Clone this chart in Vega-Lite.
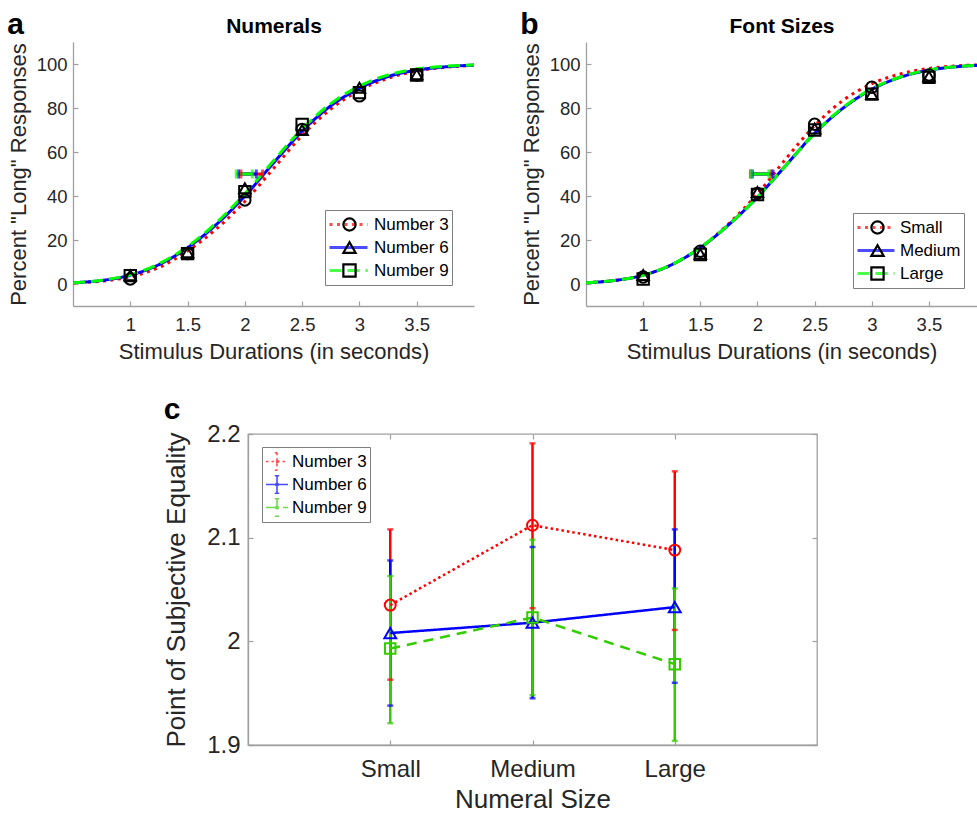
{
  "$schema": "https://vega.github.io/schema/vega-lite/v6.json",
  "padding": {"left": 7, "top": 10, "right": 0, "bottom": 0},
  "background": "white",
  "config": {
    "font": "Liberation Sans",
    "view": {"stroke": null},
    "axis": {"grid": false, "domainColor": "#a0a0a0", "domainWidth": 1.3, "tickColor": "#a0a0a0", "tickWidth": 1.2, "tickSize": -5, "labelColor": "#262626", "titleColor": "#262626", "labelFont": "Liberation Sans", "titleFont": "Liberation Sans", "titleFontWeight": "normal", "labelOverlap": false, "labelFlush": false},
    "legend": {"labelFont": "Liberation Sans", "labelColor": "black", "labelFontSize": 17},
    "title": {"font": "Liberation Sans", "color": "black"}
  },
  "datasets": {
    "curvesA": [
      {"series":"Number 3","duration":0.5,"pct":0.5},{"series":"Number 3","duration":0.75,"pct":1.3},{"series":"Number 3","duration":1,"pct":3.3},{"series":"Number 3","duration":1.25,"pct":7.5},{"series":"Number 3","duration":1.5,"pct":15},{"series":"Number 3","duration":1.75,"pct":25},{"series":"Number 3","duration":2,"pct":37.5},{"series":"Number 3","duration":2.25,"pct":52.5},{"series":"Number 3","duration":2.5,"pct":67.5},{"series":"Number 3","duration":2.75,"pct":79.5},{"series":"Number 3","duration":3,"pct":88},{"series":"Number 3","duration":3.25,"pct":93.5},{"series":"Number 3","duration":3.5,"pct":96.8},{"series":"Number 3","duration":3.75,"pct":98.5},{"series":"Number 3","duration":4,"pct":99.4},
      {"series":"Number 6","duration":0.5,"pct":0.6},{"series":"Number 6","duration":0.75,"pct":1.6},{"series":"Number 6","duration":1,"pct":4},{"series":"Number 6","duration":1.25,"pct":8.8},{"series":"Number 6","duration":1.5,"pct":16.5},{"series":"Number 6","duration":1.75,"pct":27},{"series":"Number 6","duration":2,"pct":40},{"series":"Number 6","duration":2.25,"pct":55},{"series":"Number 6","duration":2.5,"pct":69.5},{"series":"Number 6","duration":2.75,"pct":81},{"series":"Number 6","duration":3,"pct":89},{"series":"Number 6","duration":3.25,"pct":94.3},{"series":"Number 6","duration":3.5,"pct":97.2},{"series":"Number 6","duration":3.75,"pct":98.7},{"series":"Number 6","duration":4,"pct":99.5},
      {"series":"Number 9","duration":0.5,"pct":0.6},{"series":"Number 9","duration":0.75,"pct":1.7},{"series":"Number 9","duration":1,"pct":4.2},{"series":"Number 9","duration":1.25,"pct":9.2},{"series":"Number 9","duration":1.5,"pct":17},{"series":"Number 9","duration":1.75,"pct":27.8},{"series":"Number 9","duration":2,"pct":41},{"series":"Number 9","duration":2.25,"pct":56},{"series":"Number 9","duration":2.5,"pct":70.5},{"series":"Number 9","duration":2.75,"pct":82},{"series":"Number 9","duration":3,"pct":90},{"series":"Number 9","duration":3.25,"pct":95},{"series":"Number 9","duration":3.5,"pct":97.7},{"series":"Number 9","duration":3.75,"pct":99},{"series":"Number 9","duration":4,"pct":99.6}
    ],
    "pointsA": [
      {"series":"Number 3","duration":1,"pct":2.3},{"series":"Number 3","duration":1.5,"pct":13.8},{"series":"Number 3","duration":2,"pct":38.2},{"series":"Number 3","duration":2.5,"pct":70.3},{"series":"Number 3","duration":3,"pct":85.5},{"series":"Number 3","duration":3.5,"pct":95},
      {"series":"Number 6","duration":1,"pct":4},{"series":"Number 6","duration":1.5,"pct":14.4},{"series":"Number 6","duration":2,"pct":43.5},{"series":"Number 6","duration":2.5,"pct":70},{"series":"Number 6","duration":3,"pct":89.2},{"series":"Number 6","duration":3.5,"pct":95.3},
      {"series":"Number 9","duration":1,"pct":3.8},{"series":"Number 9","duration":1.5,"pct":13.8},{"series":"Number 9","duration":2,"pct":42},{"series":"Number 9","duration":2.5,"pct":72.5},{"series":"Number 9","duration":3,"pct":87},{"series":"Number 9","duration":3.5,"pct":95}
    ],
    "pseA": [
      {"series":"Number 3","lo":1.965,"hi":2.155},
      {"series":"Number 6","lo":1.945,"hi":2.1},
      {"series":"Number 9","lo":1.925,"hi":2.065}
    ],
    "curvesB": [
      {"series":"Small","duration":0.5,"pct":0.6},{"series":"Small","duration":0.75,"pct":1.6},{"series":"Small","duration":1,"pct":4},{"series":"Small","duration":1.25,"pct":8.8},{"series":"Small","duration":1.5,"pct":16.5},{"series":"Small","duration":1.75,"pct":27.5},{"series":"Small","duration":2,"pct":41},{"series":"Small","duration":2.25,"pct":57},{"series":"Small","duration":2.5,"pct":72},{"series":"Small","duration":2.75,"pct":83.5},{"series":"Small","duration":3,"pct":91},{"series":"Small","duration":3.25,"pct":95.5},{"series":"Small","duration":3.5,"pct":98},{"series":"Small","duration":3.75,"pct":99.2},{"series":"Small","duration":4,"pct":99.7},
      {"series":"Medium","duration":0.5,"pct":0.6},{"series":"Medium","duration":0.75,"pct":1.6},{"series":"Medium","duration":1,"pct":4},{"series":"Medium","duration":1.25,"pct":8.8},{"series":"Medium","duration":1.5,"pct":16.5},{"series":"Medium","duration":1.75,"pct":27},{"series":"Medium","duration":2,"pct":39.5},{"series":"Medium","duration":2.25,"pct":54},{"series":"Medium","duration":2.5,"pct":68.5},{"series":"Medium","duration":2.75,"pct":80},{"series":"Medium","duration":3,"pct":88.5},{"series":"Medium","duration":3.25,"pct":94},{"series":"Medium","duration":3.5,"pct":97.2},{"series":"Medium","duration":3.75,"pct":98.8},{"series":"Medium","duration":4,"pct":99.5},
      {"series":"Large","duration":0.5,"pct":0.6},{"series":"Large","duration":0.75,"pct":1.6},{"series":"Large","duration":1,"pct":4},{"series":"Large","duration":1.25,"pct":8.8},{"series":"Large","duration":1.5,"pct":16.6},{"series":"Large","duration":1.75,"pct":27},{"series":"Large","duration":2,"pct":39.5},{"series":"Large","duration":2.25,"pct":54},{"series":"Large","duration":2.5,"pct":68.5},{"series":"Large","duration":2.75,"pct":80.3},{"series":"Large","duration":3,"pct":88.7},{"series":"Large","duration":3.25,"pct":94.1},{"series":"Large","duration":3.5,"pct":97.3},{"series":"Large","duration":3.75,"pct":98.8},{"series":"Large","duration":4,"pct":99.5}
    ],
    "pointsB": [
      {"series":"Small","duration":1,"pct":3.2},{"series":"Small","duration":1.5,"pct":14.9},{"series":"Small","duration":2,"pct":41.2},{"series":"Small","duration":2.5,"pct":72.6},{"series":"Small","duration":3,"pct":89.4},{"series":"Small","duration":3.5,"pct":95},
      {"series":"Medium","duration":1,"pct":4.1},{"series":"Medium","duration":1.5,"pct":13.7},{"series":"Medium","duration":2,"pct":41.8},{"series":"Medium","duration":2.5,"pct":70.7},{"series":"Medium","duration":3,"pct":86.3},{"series":"Medium","duration":3.5,"pct":94.4},
      {"series":"Large","duration":1,"pct":2.3},{"series":"Large","duration":1.5,"pct":13.4},{"series":"Large","duration":2,"pct":40.7},{"series":"Large","duration":2.5,"pct":70},{"series":"Large","duration":3,"pct":86.3},{"series":"Large","duration":3.5,"pct":93.9}
    ],
    "pseB": [
      {"series":"Small","lo":1.938,"hi":2.12},
      {"series":"Medium","lo":1.955,"hi":2.135},
      {"series":"Large","lo":1.945,"hi":2.1}
    ],
    "pseC": [
      {"size":"Small","series":"Number 3","pse":2.035,"lo":1.963,"hi":2.108},
      {"size":"Medium","series":"Number 3","pse":2.112,"lo":2.032,"hi":2.191},
      {"size":"Large","series":"Number 3","pse":2.088,"lo":2.011,"hi":2.164},
      {"size":"Small","series":"Number 6","pse":2.008,"lo":1.938,"hi":2.078},
      {"size":"Medium","series":"Number 6","pse":2.018,"lo":1.945,"hi":2.091},
      {"size":"Large","series":"Number 6","pse":2.033,"lo":1.96,"hi":2.108},
      {"size":"Small","series":"Number 9","pse":1.993,"lo":1.921,"hi":2.063},
      {"size":"Medium","series":"Number 9","pse":2.023,"lo":1.948,"hi":2.098},
      {"size":"Large","series":"Number 9","pse":1.978,"lo":1.904,"hi":2.051}
    ]
  },
  "vconcat": [
    {
      "hconcat": [
        {
          "width": 401, "height": 264,
          "title": {"text": "a", "anchor": "start", "frame": "bounds", "fontSize": 30, "fontWeight": "bold", "offset": 0, "dy": 25},
          "layer": [
            {
              "data": {"name": "curvesA"},
              "mark": {"type": "line", "strokeWidth": 3, "clip": true, "interpolate": "monotone", "strokeCap": "butt"},
              "encoding": {
                "x": {"field": "duration", "type": "quantitative", "scale": {"domain": [0.5, 4], "nice": false, "zero": false}, "axis": {"values": [1, 1.5, 2, 2.5, 3, 3.5], "format": "~g", "title": "Stimulus Durations (in seconds)", "labelFontSize": 18.5, "titleFontSize": 22, "labelPadding": 14, "titlePadding": 8}},
                "y": {"field": "pct", "type": "quantitative", "scale": {"domain": [-10, 110], "nice": false, "zero": false}, "axis": {"values": [0, 20, 40, 60, 80, 100], "title": "Percent \"Long\" Responses", "labelFontSize": 18.5, "titleFontSize": 22, "labelPadding": 11, "titlePadding": 6}},
                "color": {"field": "series", "type": "nominal", "scale": {"domain": ["Number 3", "Number 6", "Number 9"], "range": ["#ff0000", "#0000ff", "#00ff00"]}, "legend": {"title": null, "orient": "none", "legendX": 252, "legendY": 168, "symbolType": "stroke", "symbolSize": 1444, "symbolStrokeWidth": 3, "clipHeight": 23, "rowPadding": 0, "padding": 3, "labelOffset": 5, "strokeColor": "#7f7f7f", "fillColor": "white", "zindex": 0}},
                "strokeDash": {"field": "series", "type": "nominal", "scale": {"domain": ["Number 3", "Number 6", "Number 9"], "range": [[3, 4.5], [1, 0], [12, 6]]}, "legend": {"title": null, "orient": "none", "legendX": 252, "legendY": 168, "symbolType": "stroke", "symbolSize": 1444, "symbolStrokeWidth": 3, "clipHeight": 23, "rowPadding": 0, "padding": 3, "labelOffset": 5, "strokeColor": "#7f7f7f", "fillColor": "white", "zindex": 0}}
              }
            },
            {
              "data": {"name": "pseA"},
              "mark": {"type": "rule", "strokeWidth": 3},
              "encoding": {
                "x": {"field": "lo", "type": "quantitative", "axis": null},
                "x2": {"field": "hi"},
                "y": {"datum": 50},
                "color": {"field": "series", "type": "nominal"}
              }
            },
            {
              "data": {"name": "pseA"},
              "transform": [{"fold": ["lo", "hi"], "as": ["end", "xv"]}],
              "mark": {"type": "tick", "orient": "vertical", "size": 9, "thickness": 3},
              "encoding": {
                "x": {"field": "xv", "type": "quantitative", "axis": null},
                "y": {"datum": 50},
                "color": {"field": "series", "type": "nominal"}
              }
            },
            {
              "data": {"name": "pointsA"},
              "mark": {"type": "point", "filled": false, "color": "black", "strokeWidth": 2, "size": 130, "opacity": 1},
              "encoding": {
                "x": {"field": "duration", "type": "quantitative", "axis": {"orient": "top", "title": "Numerals", "labels": false, "ticks": false, "domain": false, "titleFontWeight": "bold", "titleFontSize": 21, "titleColor": "black", "titleY": -10, "titleBaseline": "alphabetic"}},
                "y": {"field": "pct", "type": "quantitative"},
                "shape": {"field": "series", "type": "nominal", "scale": {"range": ["circle", "triangle-up", "square"]}, "legend": {"title": null, "orient": "none", "legendX": 265, "legendY": 168, "symbolSize": 150, "symbolStrokeWidth": 2.2, "symbolStrokeColor": "black", "symbolFillColor": "transparent", "clipHeight": 23, "rowPadding": 0, "padding": 3, "labelExpr": "''", "zindex": 1}}
              }
            }
          ],
          "resolve": {"axis": {"x": "independent"}}
        },
        {
          "width": 391, "height": 264,
          "title": {"text": "b", "anchor": "start", "frame": "bounds", "fontSize": 30, "fontWeight": "bold", "offset": 0, "dy": 25},
          "layer": [
            {
              "data": {"name": "curvesB"},
              "mark": {"type": "line", "strokeWidth": 3, "clip": true, "interpolate": "monotone", "strokeCap": "butt"},
              "encoding": {
                "x": {"field": "duration", "type": "quantitative", "scale": {"domain": [0.5, 3.92], "nice": false, "zero": false}, "axis": {"values": [1, 1.5, 2, 2.5, 3, 3.5], "format": "~g", "title": "Stimulus Durations (in seconds)", "labelFontSize": 18.5, "titleFontSize": 22, "labelPadding": 14, "titlePadding": 8}},
                "y": {"field": "pct", "type": "quantitative", "scale": {"domain": [-10, 110], "nice": false, "zero": false}, "axis": {"values": [0, 20, 40, 60, 80, 100], "title": "Percent \"Long\" Responses", "labelFontSize": 18.5, "titleFontSize": 22, "labelPadding": 11, "titlePadding": 6}},
                "color": {"field": "series", "type": "nominal", "scale": {"domain": ["Small", "Medium", "Large"], "range": ["#ff0000", "#0000ff", "#00ff00"]}, "legend": {"title": null, "orient": "none", "legendX": 267, "legendY": 171, "symbolType": "stroke", "symbolSize": 1369, "symbolStrokeWidth": 3, "clipHeight": 23, "rowPadding": 0, "padding": 3, "labelOffset": 4, "strokeColor": "#7f7f7f", "fillColor": "white", "zindex": 0}},
                "strokeDash": {"field": "series", "type": "nominal", "scale": {"domain": ["Small", "Medium", "Large"], "range": [[3, 4.5], [1, 0], [12, 6]]}, "legend": {"title": null, "orient": "none", "legendX": 267, "legendY": 171, "symbolType": "stroke", "symbolSize": 1369, "symbolStrokeWidth": 3, "clipHeight": 23, "rowPadding": 0, "padding": 3, "labelOffset": 4, "strokeColor": "#7f7f7f", "fillColor": "white", "zindex": 0}}
              }
            },
            {
              "data": {"name": "pseB"},
              "mark": {"type": "rule", "strokeWidth": 3},
              "encoding": {
                "x": {"field": "lo", "type": "quantitative", "axis": null},
                "x2": {"field": "hi"},
                "y": {"datum": 50},
                "color": {"field": "series", "type": "nominal"}
              }
            },
            {
              "data": {"name": "pseB"},
              "transform": [{"fold": ["lo", "hi"], "as": ["end", "xv"]}],
              "mark": {"type": "tick", "orient": "vertical", "size": 9, "thickness": 3},
              "encoding": {
                "x": {"field": "xv", "type": "quantitative", "axis": null},
                "y": {"datum": 50},
                "color": {"field": "series", "type": "nominal"}
              }
            },
            {
              "data": {"name": "pointsB"},
              "mark": {"type": "point", "filled": false, "color": "black", "strokeWidth": 2, "size": 130, "opacity": 1},
              "encoding": {
                "x": {"field": "duration", "type": "quantitative", "axis": {"orient": "top", "title": "Font Sizes", "labels": false, "ticks": false, "domain": false, "titleFontWeight": "bold", "titleFontSize": 21, "titleColor": "black", "titleY": -10, "titleBaseline": "alphabetic"}},
                "y": {"field": "pct", "type": "quantitative"},
                "shape": {"field": "series", "type": "nominal", "sort": ["Small", "Medium", "Large"], "scale": {"range": ["circle", "triangle-up", "square"]}, "legend": {"title": null, "orient": "none", "legendX": 280, "legendY": 171, "symbolSize": 150, "symbolStrokeWidth": 2.2, "symbolStrokeColor": "black", "symbolFillColor": "transparent", "clipHeight": 23, "rowPadding": 0, "padding": 3, "labelExpr": "''", "zindex": 1}}
              }
            }
          ],
          "resolve": {"axis": {"x": "independent"}}
        }
      ],
      "spacing": 46,
      "resolve": {"scale": {"color": "independent", "strokeDash": "independent", "shape": "independent"}, "legend": {"color": "independent", "strokeDash": "independent", "shape": "independent"}}
    },
    {
      "hconcat": [
        {
          "width": 89, "height": 1,
          "data": {"values": []},
          "mark": "point"
        },
        {
          "width": 569, "height": 311,
          "view": {"stroke": "#a0a0a0", "strokeWidth": 1.3},
          "title": {"text": "c", "anchor": "start", "frame": "bounds", "fontSize": 30, "fontWeight": "bold", "offset": -3},
          "data": {"name": "pseC"},
          "layer": [
            {
              "mark": {"type": "rule", "strokeWidth": 2.5},
              "encoding": {
                "x": {"field": "size", "type": "ordinal", "scale": {"type": "point", "domain": ["Small", "Medium", "Large"], "padding": 1}, "axis": {"title": "Numeral Size", "labelAngle": 0, "labelFontSize": 24, "titleFontSize": 26, "labelPadding": 17, "titlePadding": 5}},
                "y": {"field": "lo", "type": "quantitative", "scale": {"domain": [1.9, 2.2], "nice": false, "zero": false}, "axis": {"values": [1.9, 2, 2.1, 2.2], "format": "~g", "title": "Point of Subjective Equality", "labelFontSize": 24, "titleFontSize": 26, "labelPadding": 13, "titlePadding": 17}},
                "y2": {"field": "hi"},
                "color": {"field": "series", "type": "nominal", "scale": {"domain": ["Number 3", "Number 6", "Number 9"], "range": ["#ff0000", "#0000ff", "#33cc00"]}, "legend": {"title": null, "orient": "none", "legendX": 14, "legendY": 13, "symbolType": "M-1,0H1M0,-0.8V0.8M-0.2,-0.8H0.2M-0.2,0.8H0.2M0.12,0A0.12,0.12 0 1,1 -0.12,0A0.12,0.12 0 1,1 0.12,0", "symbolSize": 484, "symbolStrokeWidth": 1.6, "clipHeight": 23, "rowPadding": 0, "padding": 3, "labelOffset": 3, "strokeColor": "#7f7f7f", "fillColor": "white"}}
              }
            },
            {
              "transform": [{"fold": ["lo", "hi"], "as": ["end", "yv"]}],
              "mark": {"type": "tick", "orient": "horizontal", "size": 6, "thickness": 2.5},
              "encoding": {
                "x": {"field": "size", "type": "ordinal", "axis": null},
                "y": {"field": "yv", "type": "quantitative", "axis": null},
                "color": {"field": "series", "type": "nominal"}
              }
            },
            {
              "mark": {"type": "line", "strokeWidth": 2.5, "strokeCap": "butt"},
              "encoding": {
                "x": {"field": "size", "type": "ordinal", "axis": null},
                "y": {"field": "pse", "type": "quantitative", "axis": null},
                "color": {"field": "series", "type": "nominal"},
                "strokeDash": {"field": "series", "type": "nominal", "scale": {"domain": ["Number 3", "Number 6", "Number 9"], "range": [[2.5, 3], [1, 0], [10, 7]]}, "legend": {"title": null, "orient": "none", "legendX": 14, "legendY": 13, "symbolType": "M-1,0H1M0,-0.8V0.8M-0.2,-0.8H0.2M-0.2,0.8H0.2M0.12,0A0.12,0.12 0 1,1 -0.12,0A0.12,0.12 0 1,1 0.12,0", "symbolSize": 484, "symbolStrokeWidth": 1.6, "clipHeight": 23, "rowPadding": 0, "padding": 3, "labelOffset": 3, "strokeColor": "#7f7f7f", "fillColor": "white"}},
                "order": {"value": null}
              }
            },
            {
              "transform": [{"filter": "datum.series === 'Number 3'"}],
              "mark": {"type": "point", "filled": false, "strokeWidth": 2, "size": 120, "opacity": 1, "shape": "circle"},
              "encoding": {
                "x": {"field": "size", "type": "ordinal", "axis": {"orient": "top", "labels": false, "title": null, "domain": false}},
                "y": {"field": "pse", "type": "quantitative", "axis": {"orient": "right", "labels": false, "title": null, "domain": false, "values": [1.9, 2, 2.1, 2.2]}},
                "color": {"field": "series", "type": "nominal"}
              }
            },
            {
              "transform": [{"filter": "datum.series === 'Number 6'"}],
              "mark": {"type": "point", "filled": false, "strokeWidth": 2, "size": 140, "opacity": 1, "shape": "triangle-up"},
              "encoding": {
                "x": {"field": "size", "type": "ordinal", "axis": null},
                "y": {"field": "pse", "type": "quantitative", "axis": null},
                "color": {"field": "series", "type": "nominal"}
              }
            },
            {
              "transform": [{"filter": "datum.series === 'Number 9'"}],
              "mark": {"type": "point", "filled": false, "strokeWidth": 2, "size": 110, "opacity": 1, "shape": "square"},
              "encoding": {
                "x": {"field": "size", "type": "ordinal", "axis": null},
                "y": {"field": "pse", "type": "quantitative", "axis": null},
                "color": {"field": "series", "type": "nominal"}
              }
            }
          ],
          "resolve": {"axis": {"x": "independent", "y": "independent"}}
        }
      ],
      "spacing": 0,
      "resolve": {"scale": {"color": "independent", "strokeDash": "independent", "shape": "independent"}, "legend": {"color": "independent", "strokeDash": "independent", "shape": "independent"}}
    }
  ],
  "spacing": 31,
  "resolve": {"scale": {"color": "independent", "strokeDash": "independent", "shape": "independent"}, "legend": {"color": "independent", "strokeDash": "independent", "shape": "independent"}}
}
